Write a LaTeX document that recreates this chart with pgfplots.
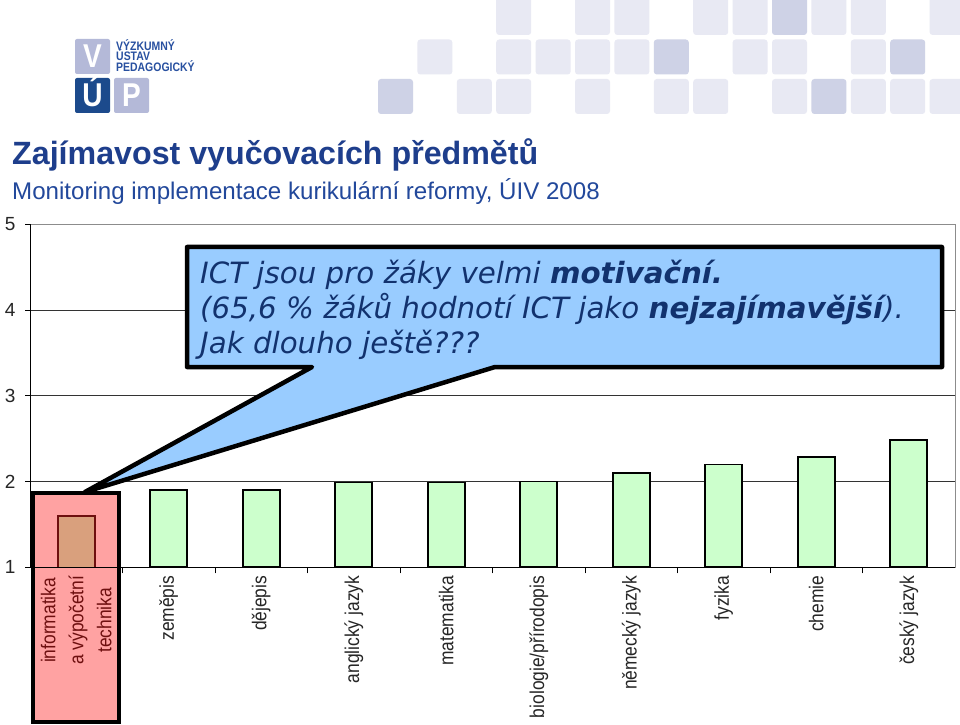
\documentclass[border=0pt]{standalone}
\usepackage{pgfplots}
\pgfplotsset{compat=1.18}
\usepackage{fontspec}
\setmainfont{Liberation Sans}
\newfontfamily\callfont{DejaVu Sans}
\newfontfamily\logofont[FakeStretch=0.85]{Liberation Sans}
\newfontfamily\labelfont[FakeStretch=0.87]{Liberation Sans}
\definecolor{titleblue}{RGB}{30,62,140}
\definecolor{subblue}{RGB}{34,72,155}
\definecolor{barGreen}{RGB}{204,255,204}
\definecolor{ictbar}{RGB}{217,160,125}
\definecolor{ictred}{RGB}{110,15,15}
\definecolor{pinkbox}{RGB}{255,162,162}
\definecolor{calloutblue}{RGB}{153,204,255}
\definecolor{callouttext}{RGB}{18,50,110}
\definecolor{sqlight}{RGB}{232,233,243}
\definecolor{sqdark}{RGB}{206,210,230}
\definecolor{logolav}{RGB}{180,185,216}
\definecolor{logoblue}{RGB}{28,74,140}
\definecolor{logotext}{RGB}{40,80,160}
\begin{document}
\begin{tikzpicture}
\begin{scope}[x=1pt,y=1pt]
\path[use as bounding box, fill=white] (0,0) rectangle (960,724);
% decorative squares
\foreach \c in {3,5,6,8,9,11,12,14} {\fill[sqlight, rounded corners=3pt] (378+39.4*\c,689) rectangle ++(35,40);}
\foreach \c in {10} {\fill[sqdark, rounded corners=3pt] (378+39.4*\c,689) rectangle ++(35,40);}
\foreach \c in {1,3,4,5,6,9,10,12} {\fill[sqlight, rounded corners=3pt] (378+39.4*\c,649.5) rectangle ++(35,35);}
\foreach \c in {7,13} {\fill[sqdark, rounded corners=3pt] (378+39.4*\c,649.5) rectangle ++(35,35);}
\foreach \c in {2,3,5,7,8,10,12,13,14} {\fill[sqlight, rounded corners=3pt] (378+39.4*\c,610) rectangle ++(35,35);}
\foreach \c in {0,11} {\fill[sqdark, rounded corners=3pt] (378+39.4*\c,610) rectangle ++(35,35);}
% logo
\fill[logolav, rounded corners=2pt] (75,650) rectangle (110,685);
\fill[logoblue, rounded corners=2pt] (75,611) rectangle (110,646);
\fill[logolav, rounded corners=2pt] (114,611) rectangle (149,646);
\node[text=white, inner sep=0, anchor=base] at (92.5,656) {\logofont\bfseries\fontsize{33}{33}\selectfont V};
\node[text=white, inner sep=0, anchor=base] at (92.5,617) {\logofont\bfseries\fontsize{33}{33}\selectfont Ú};
\node[text=white, inner sep=0, anchor=base] at (131.5,617) {\logofont\bfseries\fontsize{33}{33}\selectfont P};
\node[text=logotext, inner sep=0, anchor=base west] at (116,673.5) {\logofont\bfseries\fontsize{12.3}{12.3}\selectfont VÝZKUMNÝ};
\node[text=logotext, inner sep=0, anchor=base west] at (116,663) {\logofont\bfseries\fontsize{12.3}{12.3}\selectfont ÚSTAV};
\node[text=logotext, inner sep=0, anchor=base west] at (116,652) {\logofont\bfseries\fontsize{12.3}{12.3}\selectfont PEDAGOGICKÝ};
% titles
\node[text=titleblue, inner sep=0, anchor=base west] at (12,559) {\bfseries\fontsize{32.2}{32}\selectfont Zajímavost vyučovacích předmětů};
\node[text=subblue, inner sep=0, anchor=base west] at (12,524) {\fontsize{24.1}{24}\selectfont Monitoring implementace kurikulární reformy, ÚIV 2008};
% highlight box
\filldraw[fill=pinkbox, draw=black, line width=4pt] (33,2) rectangle (119,231);
\end{scope}
\begin{axis}[
  at={(30pt,156.7pt)}, anchor=south west,
  scale only axis, width=925pt, height=343pt,
  xmin=-0.5, xmax=9.5, ymin=1, ymax=5,
  ytick={1,2,3,4,5},
  ymajorgrids, grid style={draw=black!80, line width=0.9pt},
  axis line style={draw=black!45, line width=0.9pt},
  xtick={0,...,9},
  xticklabels={{{\color{ictred}informatika}\\{\color{ictred}a výpočetní}\\{\color{ictred}technika}},zeměpis,dějepis,anglický jazyk,matematika,biologie/přírodopis,německý jazyk,fyzika,chemie,český jazyk},
  minor x tick num=1,
  xtick pos=bottom, ytick pos=left,
  tick align=outside,
  major tick length=5pt, minor tick length=6pt,
  major x tick style={draw=none},
  minor x tick style={draw=black, line width=0.9pt},
  major y tick style={draw=black, line width=0.9pt},
  xticklabel style={rotate=90, anchor=east, align=center, font=\labelfont\fontsize{20}{28}\selectfont, text=black!85},
  yticklabel style={font=\fontsize{19}{19}\selectfont, xshift=-6pt, text=black!85},
  /pgf/number format/assume math mode=true,
  ybar, bar width=37pt,
  clip=true,
]
\addplot[bar shift=0pt, fill=ictbar, draw=ictred, line width=1.5pt] coordinates {(0,1.6)};
\addplot[bar shift=0pt, fill=barGreen, draw=black, line width=1.8pt] coordinates {(1,1.9) (2,1.9) (3,1.99) (4,1.99) (5,2.0) (6,2.1) (7,2.2) (8,2.29) (9,2.48)};
\draw[black, line width=1.3pt] (rel axis cs:0,0) -- (rel axis cs:1,0);
\draw[black, line width=1.3pt] (rel axis cs:0,0) -- (rel axis cs:0,1);
\end{axis}
\begin{scope}[x=1pt,y=1pt]
% callout
\filldraw[fill=calloutblue, draw=black, line width=4.5pt, line join=round]
  (187,477) -- (942,477) -- (942,357) -- (495,357) -- (85,232) -- (312,357) -- (187,357) -- cycle;
\node[text=callouttext, inner sep=0, anchor=base west] at (200,441) {\callfont\itshape\fontsize{29.3}{30}\selectfont ICT jsou pro žáky velmi \textbf{motivační.}};
\node[text=callouttext, inner sep=0, anchor=base west] at (200,406) {\callfont\itshape\fontsize{29.3}{30}\selectfont (65,6 \% žáků hodnotí ICT jako \textbf{nejzajímavější}).};
\node[text=callouttext, inner sep=0, anchor=base west] at (200,371) {\callfont\itshape\fontsize{29.3}{30}\selectfont Jak dlouho ještě???};
\end{scope}
\end{tikzpicture}
\end{document}
